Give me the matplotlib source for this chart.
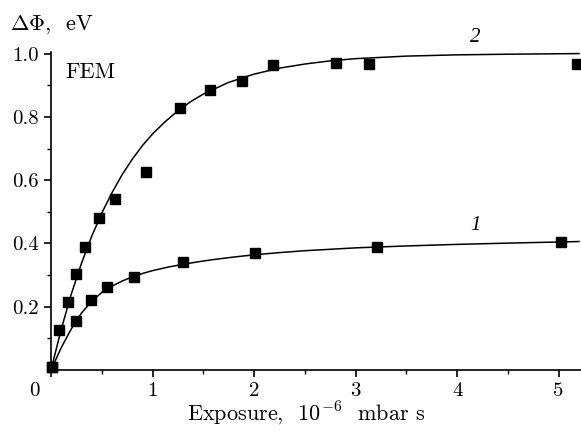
import matplotlib
matplotlib.use("Agg")
import matplotlib.pyplot as plt
import matplotlib.transforms as mtransforms
from matplotlib.ticker import MultipleLocator

plt.rcParams["font.family"] = ["cmr10", "DejaVu Serif"]
plt.rcParams["mathtext.fontset"] = "cm"
plt.rcParams["axes.unicode_minus"] = False

# Datos medidos (curva 2 = superior, curva 1 = inferior)
exp_2 = [0.01, 0.08, 0.17, 0.25, 0.33, 0.47, 0.63, 0.94, 1.27, 1.57, 1.88, 2.19, 2.81, 3.13, 5.18]
dphi_2 = [0.01, 0.126, 0.214, 0.303, 0.39, 0.48, 0.54, 0.626, 0.827, 0.884, 0.912, 0.965, 0.970, 0.968, 0.968]

exp_1 = [0.01, 0.25, 0.39, 0.55, 0.82, 1.30, 2.01, 3.21, 5.02]
dphi_1 = [0.01, 0.155, 0.221, 0.263, 0.293, 0.342, 0.369, 0.388, 0.405]

# Curvas de ajuste
fit_x2 = [0.0, 0.1, 0.2, 0.3, 0.4, 0.5, 0.6, 0.7, 0.8, 0.9, 1.0, 1.125, 1.25, 1.375, 1.5, 1.75,
          2.0, 2.25, 2.5, 2.75, 3.0, 3.5, 4.0, 4.5, 5.2]
fit_y2 = [0.0, 0.128, 0.24, 0.337, 0.422, 0.496, 0.56, 0.617, 0.666, 0.709, 0.746, 0.785, 0.819,
          0.848, 0.872, 0.909, 0.935, 0.954, 0.967, 0.977, 0.984, 0.992, 0.996, 0.998, 1.0]

fit_x1 = [0.0, 0.1, 0.2, 0.3, 0.4, 0.5, 0.6, 0.7, 0.8, 0.9, 1.0, 1.15, 1.3, 1.45, 1.6, 1.8,
          2.0, 2.25, 2.5, 3.0, 3.5, 4.0, 4.5, 5.2]
fit_y1 = [0.0, 0.07, 0.13, 0.18, 0.217, 0.245, 0.265, 0.281, 0.294, 0.305, 0.314, 0.325, 0.334,
          0.342, 0.349, 0.357, 0.364, 0.371, 0.377, 0.386, 0.392, 0.397, 0.401, 0.406]

fig = plt.figure(figsize=(5.81, 4.33), dpi=100)
ax = fig.add_axes([51 / 581, 63 / 433, 530 / 581, 318 / 433])

ax.plot(fit_x2, fit_y2, color="black", linewidth=1.1, clip_on=False)
ax.plot(fit_x1, fit_y1, color="black", linewidth=1.1, clip_on=False)
ax.plot(exp_2, dphi_2, "s", color="black", markersize=7, clip_on=False)
ax.plot(exp_1, dphi_1, "s", color="black", markersize=7, clip_on=False)

ax.set_xlim(0, 5.22)
ax.set_ylim(0, 1.005)

for s in ["top", "right"]:
    ax.spines[s].set_visible(False)
for s in ["left", "bottom"]:
    ax.spines[s].set_linewidth(1.2)

ax.set_xticks([0, 1, 2, 3, 4, 5])
ax.set_xticklabels(["0", "1", "2", "3", "4", "5"])
ax.xaxis.set_minor_locator(MultipleLocator(0.5))
ax.set_yticks([0.2, 0.4, 0.6, 0.8, 1.0])
ax.set_yticklabels(["0.2", "0.4", "0.6", "0.8", "1.0"])
ax.yaxis.set_minor_locator(MultipleLocator(0.1))
ax.tick_params(which="major", direction="out", length=5, width=1.2, labelsize=15, pad=4)
ax.tick_params(which="minor", direction="out", length=3, width=1.0)

# "0" do eixo x deslocado para a esquerda
off = mtransforms.ScaledTranslation(-17 / 100, 0, fig.dpi_scale_trans)
lab0 = ax.get_xticklabels()[0]
lab0.set_transform(lab0.get_transform() + off)

fig.text(10 / 581, 1 - 25 / 433, r"$\Delta\Phi$,  eV", fontsize=16, va="center", ha="left")
fig.text(306 / 581, 1 - 413 / 433, r"Exposure,  $10^{-6}$  mbar s", fontsize=16,
         va="center", ha="center")
fig.text(65 / 581, 1 - 72 / 433, "FEM", fontsize=16, va="center", ha="left")

ax.text(4.18, 1.05, "2", fontsize=15, family="Liberation Serif", style="italic",
        ha="center", va="center", clip_on=False)
ax.text(4.18, 0.457, "1", fontsize=15, family="Liberation Serif", style="italic",
        ha="center", va="center", clip_on=False)

fig.savefig("out.png", dpi=100)
